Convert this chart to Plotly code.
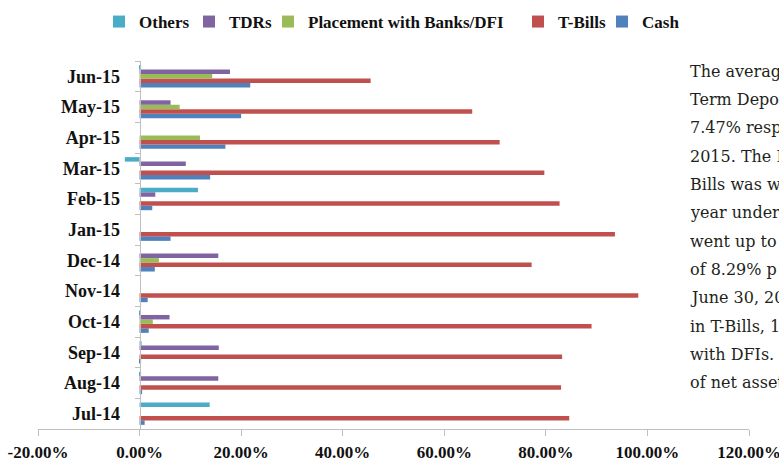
import plotly.graph_objects as go

# Monthly asset allocation (% of net assets)
months = ["Jul-14", "Aug-14", "Sep-14", "Oct-14", "Nov-14", "Dec-14",
          "Jan-15", "Feb-15", "Mar-15", "Apr-15", "May-15", "Jun-15"]
cash = [1.0, 0.5, 0.3, 1.8, 1.6, 3.0, 6.1, 2.5, 13.9, 16.9, 20.0, 21.8]
t_bills = [84.6, 83.0, 83.2, 89.0, 98.2, 77.2, 93.6, 82.7, 79.7, 70.9, 65.5, 45.5]
placement = [0, 0, 0, 2.6, 0, 3.8, 0, 0, 0, 11.9, 7.9, 14.3]
tdrs = [0, 15.5, 15.6, 5.9, 0, 15.5, 0, 3.1, 9.1, 0, 6.1, 17.8]
others = [13.8, 0.3, 0.4, 0.2, 0, 0, 0, 11.5, -2.9, 0, 0, 0.3]

tick_values = [-20, 0, 20, 40, 60, 80, 100, 120]
tick_labels = ["-20.00%", "0.00%", "20.00%", "40.00%", "60.00%",
               "80.00%", "100.00%", "120.00%"]

side_text = ["The averag", "Term Depo", "7.47% resp", "2015. The F",
             "Bills was w", "year under", "went up to", "of 8.29% p",
             "June 30, 201", "in T-Bills, 1", "with DFIs. T", "of net asset"]

# name, values, colour, legend slot (left edge of the entry, px)
series = [
    ("Cash", cash, "#4F81BD", "legend5", 602),
    ("T-Bills", t_bills, "#C0504D", "legend4", 518),
    ("Placement with Banks/DFI", placement, "#9BBB59", "legend3", 268),
    ("TDRs", tdrs, "#8064A2", "legend2", 189),
    ("Others", others, "#4BACC6", "legend", 99),
]

W, H = 779, 463
ML, MR, MT, MB = 38, 30, 61, 34
serif_bold = "Liberation Serif"
axis_grey = "#bfbfbf"
legend_font = dict(family=serif_bold, size=17, color="#111111", weight="bold")

fig = go.Figure()
layout_legends = {}
for name, vals, color, leg, left in series:
    fig.add_trace(go.Bar(
        y=months, x=vals, name=name, orientation="h",
        marker=dict(color=color, line=dict(width=0)),
        legend=leg,
    ))
    layout_legends[leg] = dict(
        orientation="h", xref="container", yref="container",
        x=left / W, xanchor="left", y=1 - 22 / H, yanchor="middle",
        font=legend_font, bgcolor="rgba(0,0,0,0)", borderwidth=0,
    )

fig.update_layout(
    width=W, height=H,
    margin=dict(l=ML, r=MR, t=MT, b=MB, autoexpand=False),
    paper_bgcolor="white", plot_bgcolor="white",
    barmode="group", bargap=0.27, bargroupgap=0,
    showlegend=True,
    xaxis=dict(
        range=[-20, 120], tickvals=tick_values, ticktext=tick_labels,
        automargin=False, ticklabeloverflow="allow",
        showgrid=False, zeroline=False,
        showline=True, linecolor=axis_grey, linewidth=1,
        ticks="outside", ticklen=6, tickcolor=axis_grey,
        ticklabelstandoff=2,
        tickfont=dict(family=serif_bold, size=17, color="#111111", weight="bold"),
    ),
    yaxis=dict(
        type="category", anchor="free", position=20 / 140,
        automargin=False,
        showgrid=False, zeroline=False,
        showline=True, linecolor=axis_grey, linewidth=1,
        ticks="outside", tickson="boundaries", ticklen=5, tickcolor=axis_grey,
        ticklabelstandoff=16,
        tickfont=dict(family=serif_bold, size=18, color="#111111", weight="bold"),
    ),
    **layout_legends,
)

# Commentary column at the right edge
plot_w = W - ML - MR
plot_h = H - MT - MB
for i, line in enumerate(side_text):
    fig.add_annotation(
        text=line, xref="paper", yref="paper",
        x=(688 - ML) / plot_w, xanchor="left",
        y=1 - (71 + 28.36 * i - MT) / plot_h, yanchor="middle",
        showarrow=False,
        font=dict(family="DejaVu Serif", size=16, color="#231f20"),
        bgcolor="white",
    )

fig.write_html("out.html")
